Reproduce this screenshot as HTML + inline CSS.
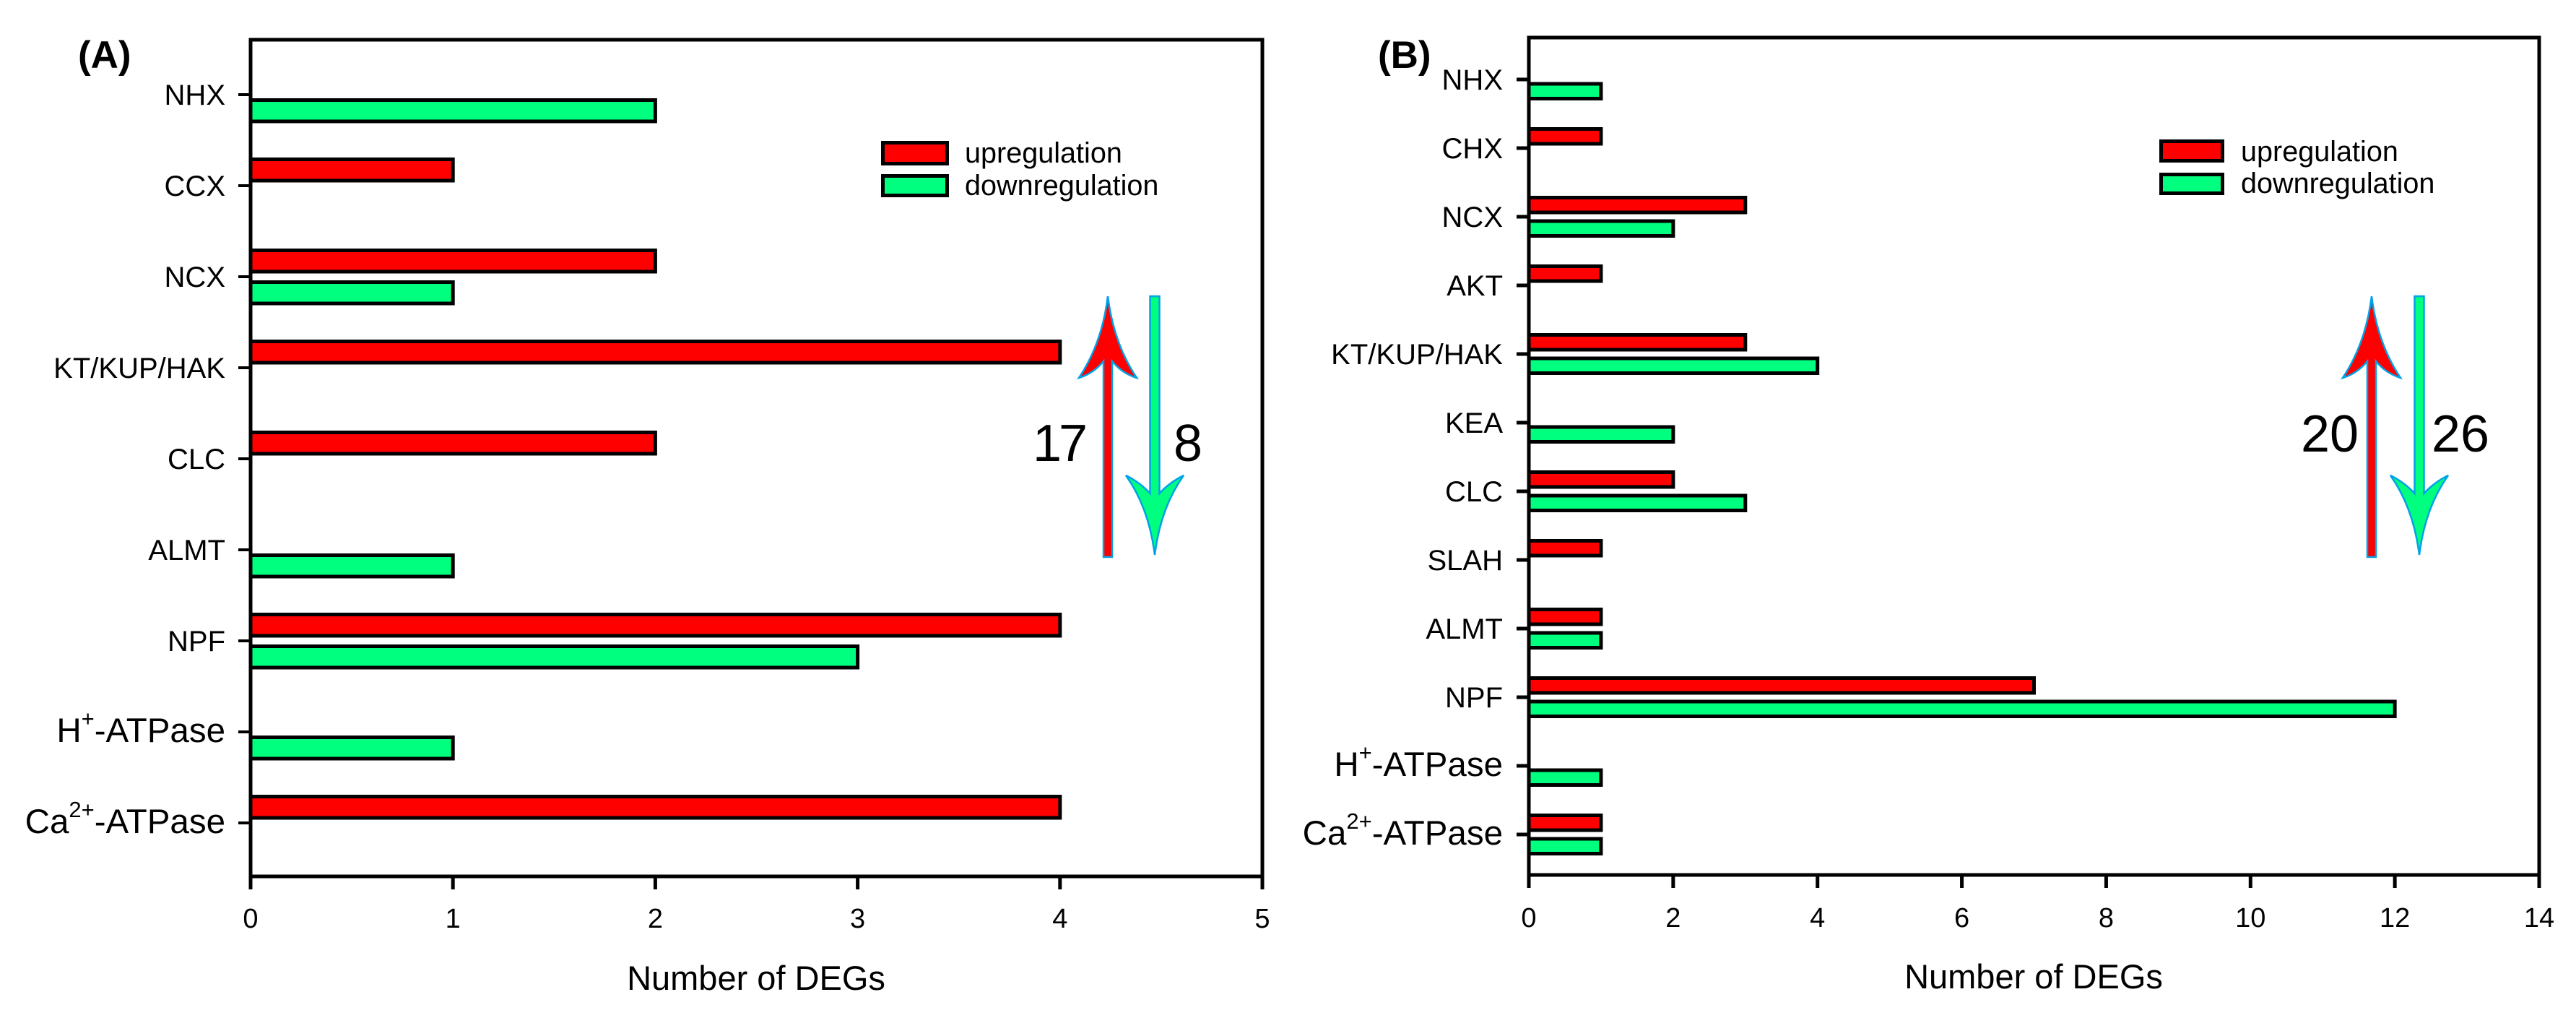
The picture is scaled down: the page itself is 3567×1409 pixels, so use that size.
<!DOCTYPE html>
<html lang="en">
<head>
<meta charset="utf-8">
<title>Number of DEGs by transporter family</title>
<style>
  html, body { margin: 0; padding: 0; background: #fff; }
  svg { display: block; font-family: "Liberation Sans", Arial, sans-serif; fill: #000; }
</style>
</head>
<body>
<svg id="figure" xmlns="http://www.w3.org/2000/svg" width="3567" height="1409" viewBox="0 0 3567 1409">
  <rect x="0" y="0" width="3567" height="1409" fill="#fff"/>

  <g id="panel-a"></g>
  <g id="panel-b"></g>

  <text x="108" y="94" font-size="53" font-weight="bold">(A)</text>
  <text x="1908" y="94" font-size="53" font-weight="bold">(B)</text>

  <g>
    <rect x="1222.5" y="197.5" width="89" height="29" fill="#ff0000" stroke="#000" stroke-width="5"/>
    <text x="1336" y="225" font-size="39.6">upregulation</text>
    <rect x="1222.5" y="243.5" width="89" height="27" fill="#00ff7f" stroke="#000" stroke-width="5"/>
    <text x="1336" y="270" font-size="39.6">downregulation</text>
  </g>
  <g>
    <rect x="2992.5" y="195.5" width="85" height="27" fill="#ff0000" stroke="#000" stroke-width="5"/>
    <text x="3103" y="223" font-size="39.6">upregulation</text>
    <rect x="2992.5" y="241.5" width="85" height="26" fill="#00ff7f" stroke="#000" stroke-width="5"/>
    <text x="3103" y="267" font-size="39.6">downregulation</text>
  </g>

  <g>
    <path transform="translate(1534,0)" fill="#ff0000" stroke="#00a2e8" stroke-width="2.5" d="M0 410 Q8 475 40 523 Q20 517 6 500 L6 771 L-6 771 L-6 500 Q-20 517 -40 523 Q-8 475 0 410Z"/>
    <path transform="translate(1599,0)" fill="#00ff7f" stroke="#00a2e8" stroke-width="2.5" d="M-6.5 410 L6.5 410 L6.5 683 Q20 668 40 658 Q8 703 0 768 Q-8 703 -40 658 Q-20 668 -6.5 683Z"/>
    <text x="1430" y="638" font-size="72" letter-spacing="-4">17</text>
    <text x="1625" y="638" font-size="72">8</text>
  </g>
  <g>
    <path transform="translate(3284,0)" fill="#ff0000" stroke="#00a2e8" stroke-width="2.5" d="M0 410 Q8 475 40 523 Q20 517 6 500 L6 771 L-6 771 L-6 500 Q-20 517 -40 523 Q-8 475 0 410Z"/>
    <path transform="translate(3350,0)" fill="#00ff7f" stroke="#00a2e8" stroke-width="2.5" d="M-6.5 410 L6.5 410 L6.5 683 Q20 668 40 658 Q8 703 0 768 Q-8 703 -40 658 Q-20 668 -6.5 683Z"/>
    <text x="3186" y="625" font-size="72">20</text>
    <text x="3367" y="625" font-size="72">26</text>
  </g>
</svg>

<script>
const categoriesA = ['NHX', 'CCX', 'NCX', 'KT/KUP/HAK', 'CLC', 'ALMT', 'NPF', 'H^+^-ATPase', 'Ca^2+^-ATPase'];
const upregulationA = [0, 1, 2, 4, 2, 0, 4, 0, 4];
const downregulationA = [2, 0, 1, 0, 0, 1, 3, 1, 0];
const xTicksA = [0, 1, 2, 3, 4, 5];

const categoriesB = ['NHX', 'CHX', 'NCX', 'AKT', 'KT/KUP/HAK', 'KEA', 'CLC', 'SLAH', 'ALMT', 'NPF', 'H^+^-ATPase', 'Ca^2+^-ATPase'];
const upregulationB = [0, 1, 3, 1, 3, 0, 2, 1, 1, 7, 0, 1];
const downregulationB = [1, 0, 2, 0, 4, 2, 3, 0, 1, 12, 1, 1];
const xTicksB = [0, 2, 4, 6, 8, 10, 12, 14];

const SVG_NS = 'http://www.w3.org/2000/svg';

function make(parent, tag, attrs) {
  const el = document.createElementNS(SVG_NS, tag);
  for (const key in attrs) el.setAttribute(key, attrs[key]);
  parent.appendChild(el);
  return el;
}

function addCategoryLabel(parent, label, x, y) {
  const text = make(parent, 'text', { x: x, y: y, 'text-anchor': 'end' });
  
  
  const parts = label.split('^');
  if (parts.length === 1) {
    text.setAttribute('font-size', 40);
    text.textContent = label;
    return;
  }
  text.setAttribute('font-size', 47.5);
  const base = make(text, 'tspan', {});
  base.textContent = parts[0];
  const sup = make(text, 'tspan', { dy: -22, 'font-size': 31 });
  sup.textContent = parts[1];
  const rest = make(text, 'tspan', { dy: 22 });
  rest.textContent = parts[2];
}

function drawPanel(root, g) {
  const xScale = function (v) { return g.left + (v / g.xMax) * (g.right - g.left); };
  const yScale = function (i) { return g.firstTick + i * g.step; };

  // bars
  g.categories.forEach(function (label, i) {
    const tick = yScale(i);
    if (g.up[i] > 0) {
      const bar = make(root, 'rect', {
        x: xScale(0), y: tick - g.barFar, width: xScale(g.up[i]) - xScale(0), height: g.barHeight,
        fill: '#ff0000', stroke: '#000', 'stroke-width': 5
      });
      
      
    }
    if (g.down[i] > 0) {
      const bar = make(root, 'rect', {
        x: xScale(0), y: tick + g.barNear, width: xScale(g.down[i]) - xScale(0), height: g.barHeight,
        fill: '#00ff7f', stroke: '#000', 'stroke-width': 5
      });
      
      
    }
  });

  // plot frame
  const frame = make(root, 'rect', {
    x: g.left, y: g.top, width: g.right - g.left, height: g.bottom - g.top,
    fill: 'none', stroke: '#000', 'stroke-width': 5
  });
  
  

  // y ticks and labels
  g.categories.forEach(function (label, i) {
    const tick = yScale(i);
    const line = make(root, 'line', {
      x1: g.left - 17, x2: g.left, y1: tick, y2: tick, stroke: '#000', 'stroke-width': g.yTickWidth
    });
    
    
    addCategoryLabel(root, label, g.left - g.labelGap, tick + 14);
  });

  // x ticks and labels
  g.xTicks.forEach(function (v) {
    const x = xScale(v);
    const line = make(root, 'line', {
      x1: x, x2: x, y1: g.bottom, y2: g.bottom + 18, stroke: '#000', 'stroke-width': 5
    });
    
    
    const text = make(root, 'text', {
      x: x, y: g.tickBaseline, 'text-anchor': 'middle', 'font-size': 38
    });
    
    
    text.textContent = String(v);
  });

  const title = make(root, 'text', {
    x: g.titleX, y: g.titleBaseline, 'text-anchor': 'middle', 'font-size': 47
  });
  
  
  title.textContent = 'Number of DEGs';
}

drawPanel(document.getElementById('panel-a'), {
  categories: categoriesA, up: upregulationA, down: downregulationA, xTicks: xTicksA, xMax: 5,
  left: 347, right: 1748, top: 55, bottom: 1213,
  firstTick: 131, step: 126, barFar: 36.5, barNear: 7.5, barHeight: 29.5,
  yTickWidth: 4, labelGap: 35,
  tickBaseline: 1284, titleX: 1047, titleBaseline: 1370
});

drawPanel(document.getElementById('panel-b'), {
  categories: categoriesB, up: upregulationB, down: downregulationB, xTicks: xTicksB, xMax: 14,
  left: 2117, right: 3516, top: 52, bottom: 1211,
  firstTick: 110, step: 95, barFar: 26.5, barNear: 6, barHeight: 20.5,
  yTickWidth: 5, labelGap: 36,
  tickBaseline: 1283, titleX: 2816, titleBaseline: 1368
});
</script>
</body>
</html>
